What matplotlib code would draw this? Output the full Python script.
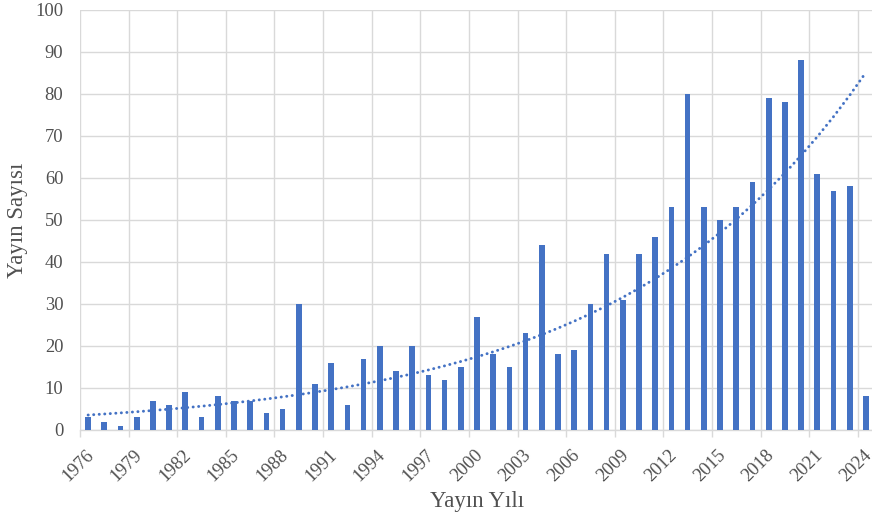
import numpy as np
import matplotlib
matplotlib.use("Agg")
import matplotlib.pyplot as plt
from matplotlib.ticker import FixedLocator
from matplotlib.transforms import ScaledTranslation

years = list(range(1976, 2025))
counts = [3, 2, 1, 3, 7, 6, 9, 3, 8, 7, 7, 4, 5, 30, 11, 16, 6, 17, 20, 14,
          20, 13, 12, 15, 27, 18, 15, 23, 44, 18, 19, 30, 42, 31, 42, 46, 53, 80,
          53, 50, 53, 59, 79, 78, 88, 61, 57, 58, 8]
tick_years = years[::3]
y_ticks = list(range(0, 101, 10))

bar_color = "#4472C4"
grid_color = "#D9D9D9"
text_color = "#505050"
font = "Liberation Serif"

fig = plt.figure(figsize=(8.72, 5.22), dpi=100)
W, H = 872, 522
left, right, top, bottom = 80, 874, 10, 430
ax = fig.add_axes([left / W, 1 - bottom / H, (right - left) / W, (bottom - top) / H])

x = np.arange(len(years))
ax.bar(x, counts, width=0.35, color=bar_color, zorder=3)

# Exponential trendline (least squares on log values, as in a spreadsheet)
xi = x + 1
b, a = np.polyfit(xi, np.log(counts), 1)
trend = np.exp(a + b * xi)
ax.plot(x, trend, color=bar_color, lw=2.1, linestyle=(0, (0.05, 1.85)),
        dash_capstyle="round", zorder=4)

ax.set_xlim(-0.5, len(years) - 0.5)
ax.set_ylim(0, 100)
ax.set_yticks(y_ticks)
ax.set_yticklabels([str(v) for v in y_ticks], fontsize=13.3, color=text_color, family=font)

tick_pos = [years.index(t) for t in tick_years]
ax.set_xticks(tick_pos)
ax.set_xticklabels([str(t) for t in tick_years], rotation=45, ha="right", va="top",
                   rotation_mode="anchor", fontsize=13.3, color=text_color, family=font)
ax.xaxis.set_minor_locator(FixedLocator(np.arange(-0.5, len(years), 3)))

ax.tick_params(axis="y", length=0, pad=12)
ax.tick_params(axis="x", which="major", length=0, pad=12)
ax.tick_params(axis="x", which="minor", length=5, color=grid_color, width=1)

offset = ScaledTranslation(-3 / 100, 0, fig.dpi_scale_trans)
for lab in ax.get_xticklabels():
    lab.set_transform(lab.get_transform() + offset)

ax.grid(axis="y", color=grid_color, lw=1.0, zorder=0)
ax.grid(axis="x", which="minor", color=grid_color, lw=1.0, zorder=0)
ax.grid(axis="x", which="major", visible=False)

for s in ["top", "right", "left"]:
    ax.spines[s].set_visible(False)
ax.spines["bottom"].set_color(grid_color)
ax.spines["bottom"].set_linewidth(1.0)

ax.set_xlabel("Yayın Yılı", fontsize=16.5, color=text_color, family=font)
ax.set_ylabel("Yayın Sayısı", fontsize=16.5, color=text_color, family=font)
ax.xaxis.set_label_coords(0.5, -0.145)
ax.yaxis.set_label_coords(-0.066, 0.5)

fig.savefig("out.png", dpi=100)
